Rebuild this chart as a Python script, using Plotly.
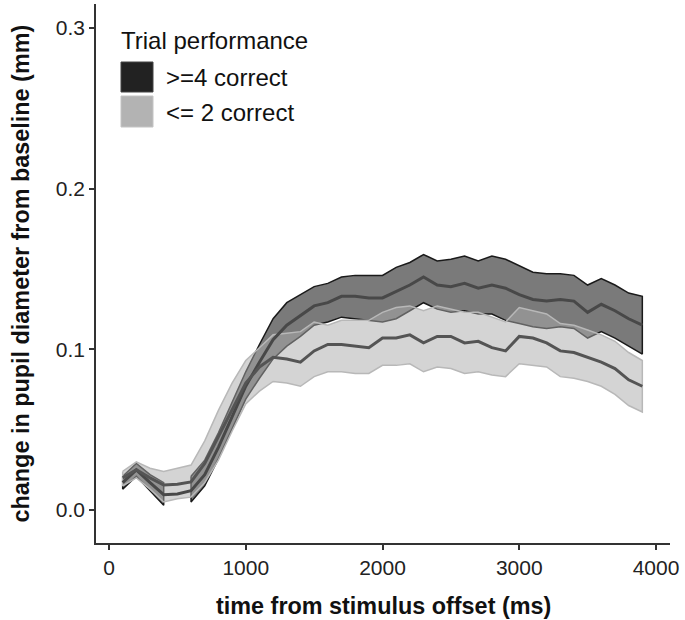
import plotly.graph_objects as go

# ---------------- data ----------------
time_ms = [100, 200, 300, 400, 500, 600, 700, 800, 900, 1000,
           1100, 1200, 1300, 1400, 1500, 1600, 1700, 1800, 1900, 2000,
           2100, 2200, 2300, 2400, 2500, 2600, 2700, 2800, 2900, 3000,
           3100, 3200, 3300, 3400, 3500, 3600, 3700, 3800, 3900]

# >=4 correct
hi_mean = [0.017, 0.025, 0.017, 0.0095, 0.010, 0.012, 0.022, 0.039, 0.058, 0.077,
           0.092, 0.106, 0.115, 0.121, 0.127, 0.129, 0.133, 0.133, 0.132, 0.132,
           0.136, 0.140, 0.145, 0.140, 0.139, 0.141, 0.138, 0.140, 0.138, 0.134,
           0.131, 0.130, 0.131, 0.130, 0.123, 0.128, 0.124, 0.119, 0.115]
hi_upper = [0.021, 0.029, 0.022, 0.017, None, 0.021, 0.031, 0.048, 0.067, 0.086,
            0.103, 0.119, 0.129, 0.134, 0.139, 0.141, 0.145, 0.146, 0.146, 0.146,
            0.151, 0.154, 0.159, 0.155, 0.156, 0.158, 0.155, 0.158, 0.156, 0.152,
            0.148, 0.147, 0.147, 0.146, 0.140, 0.144, 0.140, 0.135, 0.133]
hi_lower = [0.013, 0.021, 0.012, 0.003, None, 0.005, 0.015, 0.032, 0.050, 0.069,
            0.082, 0.094, 0.102, 0.108, 0.115, 0.117, 0.120, 0.119, 0.118, 0.117,
            0.119, 0.124, 0.129, 0.125, 0.123, 0.124, 0.122, 0.122, 0.118, 0.116,
            0.114, 0.113, 0.114, 0.113, 0.107, 0.111, 0.107, 0.102, 0.097]

# <= 2 correct
lo_mean = [0.020, 0.025, 0.020, 0.0155, 0.016, 0.0175, 0.029, 0.046, 0.063, 0.079,
           0.089, 0.095, 0.094, 0.092, 0.099, 0.103, 0.103, 0.102, 0.101, 0.107,
           0.107, 0.109, 0.104, 0.108, 0.108, 0.104, 0.105, 0.101, 0.099, 0.108,
           0.107, 0.104, 0.099, 0.098, 0.095, 0.092, 0.088, 0.081, 0.077]
lo_upper = [0.024, 0.030, 0.026, 0.024, 0.026, 0.028, 0.043, 0.062, 0.079, 0.093,
            0.101, 0.109, 0.110, 0.111, 0.117, 0.115, 0.118, 0.118, 0.118, 0.123,
            0.126, 0.127, 0.124, 0.127, 0.125, 0.123, 0.123, 0.120, 0.117, 0.126,
            0.124, 0.122, 0.116, 0.115, 0.112, 0.109, 0.105, 0.098, 0.093]
lo_lower = [0.015, 0.020, 0.013, 0.005, 0.007, 0.008, 0.017, 0.031, 0.049, 0.066,
            0.074, 0.080, 0.079, 0.077, 0.083, 0.086, 0.086, 0.085, 0.085, 0.090,
            0.090, 0.091, 0.086, 0.089, 0.088, 0.085, 0.086, 0.084, 0.083, 0.091,
            0.090, 0.089, 0.083, 0.082, 0.080, 0.077, 0.072, 0.065, 0.061]

group_labels = [">=4 correct", "<= 2 correct"]
legend_title = "Trial performance"
x_ticks = [0, 1000, 2000, 3000, 4000]
y_ticks = [0.0, 0.1, 0.2, 0.3]
x_title = "time from stimulus offset (ms)"
y_title = "change in pupil diameter from baseline (mm)"

# ---------------- helpers ----------------
def segments(t, up, lo):
    """split ribbon into contiguous segments (gap where value missing)"""
    segs, cur = [], []
    for ti, u, l in zip(t, up, lo):
        if u is None or l is None:
            if cur:
                segs.append(cur)
            cur = []
        else:
            cur.append((ti, u, l))
    if cur:
        segs.append(cur)
    return segs


def ribbon_traces(t, up, lo, fill, line):
    out = []
    for seg in segments(t, up, lo):
        xs = [s[0] for s in seg] + [s[0] for s in reversed(seg)] + [seg[0][0]]
        ys = [s[1] for s in seg] + [s[2] for s in reversed(seg)] + [seg[0][1]]
        out.append(go.Scatter(x=xs, y=ys, mode="lines", fill="toself",
                              fillcolor=fill, line=dict(color=line, width=1.5),
                              showlegend=False, hoverinfo="skip"))
    return out


FONT = "Liberation Sans, Arial, Helvetica, sans-serif"
W, H = 685, 620
L, R, T, B = 96, 670, 4, 543   # plot area in pixels

fig = go.Figure()
for tr in ribbon_traces(time_ms, hi_upper, hi_lower, "rgba(0,0,0,0.52)", "#1a1a1a"):
    fig.add_trace(tr)
for tr in ribbon_traces(time_ms, lo_upper, lo_lower, "rgba(170,170,170,0.5)", "#b8b8b8"):
    fig.add_trace(tr)

fig.add_trace(go.Scatter(x=time_ms, y=hi_mean, mode="lines", name=group_labels[0],
                         line=dict(color="#484848", width=3), showlegend=False))
fig.add_trace(go.Scatter(x=time_ms, y=lo_mean, mode="lines", name=group_labels[1],
                         line=dict(color="#545454", width=3), showlegend=False))


def px_x(p):
    return (p - L) / (R - L)


def px_y(p):
    return (B - p) / (B - T)


# legend (drawn manually to match ggplot keys)
shapes = [
    dict(type="rect", xref="paper", yref="paper",
         x0=px_x(121), x1=px_x(153), y0=px_y(92), y1=px_y(62),
         fillcolor="#222222", line=dict(color="#444444", width=1)),
    dict(type="rect", xref="paper", yref="paper",
         x0=px_x(121), x1=px_x(153), y0=px_y(127), y1=px_y(96),
         fillcolor="#b3b3b3", line=dict(color="#c4c4c4", width=1)),
]
annotations = [
    dict(text=legend_title, xref="paper", yref="paper", x=px_x(119), y=px_y(40),
         xanchor="left", yanchor="middle", showarrow=False,
         font=dict(family=FONT, size=24, color="#111")),
    dict(text=group_labels[0], xref="paper", yref="paper", x=px_x(164), y=px_y(78),
         xanchor="left", yanchor="middle", showarrow=False,
         font=dict(family=FONT, size=24, color="#111")),
    dict(text=group_labels[1], xref="paper", yref="paper", x=px_x(164), y=px_y(112),
         xanchor="left", yanchor="middle", showarrow=False,
         font=dict(family=FONT, size=24, color="#111")),
    dict(text="<b>" + x_title + "</b>", xref="paper", yref="paper",
         x=0.5, y=px_y(606), xanchor="center", yanchor="middle", showarrow=False,
         font=dict(family=FONT, size=23.4, color="#111")),
    dict(text="<b>" + y_title + "</b>", xref="paper", yref="paper",
         x=px_x(20), y=0.5, xanchor="center", yanchor="middle", showarrow=False,
         textangle=-90, font=dict(family=FONT, size=23.4, color="#111")),
]

x0_val = 0 - (109 - L) / 0.13675
x1_val = 0 + (R - 109) / 0.13675
y_scale = 1607.0
y0_val = -(B - 510) / y_scale
y1_val = (510 - T) / y_scale

fig.update_layout(
    width=W, height=H,
    margin=dict(l=L, r=W - R, t=T, b=H - B, pad=0),
    paper_bgcolor="white", plot_bgcolor="white",
    shapes=shapes, annotations=annotations,
    showlegend=False,
    xaxis=dict(range=[x0_val, x1_val], tickvals=x_ticks, showgrid=False, zeroline=False,
               showline=True, linecolor="#333", linewidth=1.6,
               ticks="outside", ticklen=5, tickwidth=1.6, tickcolor="#333",
               tickfont=dict(family=FONT, size=21, color="#222")),
    yaxis=dict(range=[y0_val, y1_val], tickvals=y_ticks, tickformat=".1f",
               showgrid=False, zeroline=False,
               showline=True, linecolor="#333", linewidth=1.6,
               ticks="outside", ticklen=5, tickwidth=1.6, tickcolor="#333",
               tickfont=dict(family=FONT, size=21, color="#222")),
)

fig.write_html("out.html",
               config={"displayModeBar": False},
               post_script="document.body.style.margin='0';document.body.style.padding='0';")
